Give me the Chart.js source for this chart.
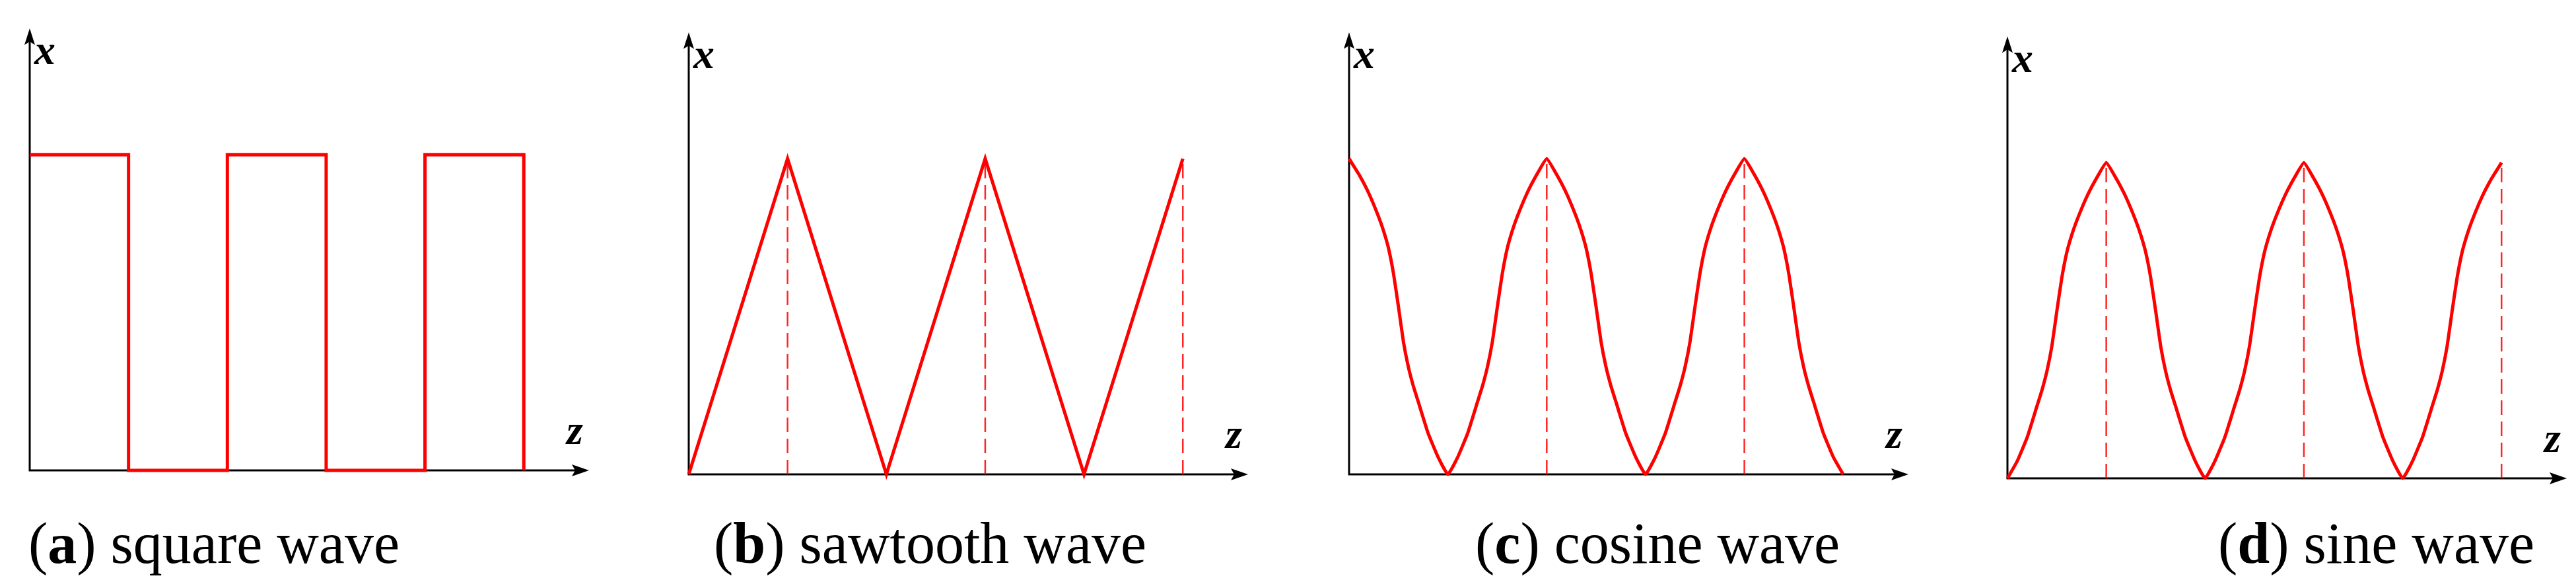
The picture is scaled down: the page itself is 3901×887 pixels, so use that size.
<!DOCTYPE html>
<html>
<head>
<meta charset="utf-8">
<script src="https://cdn.jsdelivr.net/npm/chart.js@4.4.1/dist/chart.umd.min.js"></script>
<style>
    html, body { margin: 0; padding: 0; background: #fff; overflow: hidden; }
    body { position: relative; width: 3901px; height: 887px; }
    .panel { position: absolute; }
    .caption {
        position: absolute;
        top: 779px;
        font-family: "Liberation Serif", "DejaVu Serif", serif;
        font-size: 88px;
        line-height: 1;
        white-space: nowrap;
        color: #000;
    }
</style>
</head>
<body>

<div class="panel" id="box-a"><canvas id="chart-a"></canvas></div>
<div class="panel" id="box-b"><canvas id="chart-b"></canvas></div>
<div class="panel" id="box-c"><canvas id="chart-c"></canvas></div>
<div class="panel" id="box-d"><canvas id="chart-d"></canvas></div>

<div class="caption" style="left:43px">(<b>a</b>) square wave</div>
<div class="caption" style="left:1081px">(<b>b</b>) sawtooth wave</div>
<div class="caption" style="left:2234px">(<b>c</b>) cosine wave</div>
<div class="caption" style="left:3359px">(<b>d</b>) sine wave</div>

<script>
// --- DATOS (z en medios periodos, x en amplitudes) ---

// onda cuadrada
const squareZ = [0, 1, 1, 2, 2, 3, 3, 4, 4, 5, 5];
const squareX = [1, 1, 0, 0, 1, 1, 0, 0, 1, 1, 0];

// diente de sierra
const sawZ = [0, 1, 2, 3, 4, 5];
const sawX = [0, 1, 0, 1, 0, 1];
const sawGuides = [1, 3, 5];

// muestreo comun para coseno y seno
const waveZ = [
    0, 0.1, 0.2, 0.3, 0.35, 0.4, 0.45, 0.5, 0.55, 0.6, 0.65, 0.7, 0.8, 0.9,
    1, 1.1, 1.2, 1.3, 1.35, 1.4, 1.45, 1.5, 1.55, 1.6, 1.65, 1.7, 1.8, 1.9,
    2, 2.1, 2.2, 2.3, 2.35, 2.4, 2.45, 2.5, 2.55, 2.6, 2.65, 2.7, 2.8, 2.9,
    3, 3.1, 3.2, 3.3, 3.35, 3.4, 3.45, 3.5, 3.55, 3.6, 3.65, 3.7, 3.8, 3.9,
    4, 4.1, 4.2, 4.3, 4.35, 4.4, 4.45, 4.5, 4.55, 4.6, 4.65, 4.7, 4.8, 4.9,
    5
];

// coseno: empieza en el maximo
const cosineX = [
    1, 0.95, 0.89, 0.815, 0.77, 0.715, 0.635, 0.53, 0.42, 0.34, 0.28, 0.23, 0.13, 0.055,
    0, 0.055, 0.13, 0.23, 0.28, 0.34, 0.42, 0.53, 0.635, 0.715, 0.77, 0.815, 0.89, 0.95,
    1, 0.95, 0.89, 0.815, 0.77, 0.715, 0.635, 0.53, 0.42, 0.34, 0.28, 0.23, 0.13, 0.055,
    0, 0.055, 0.13, 0.23, 0.28, 0.34, 0.42, 0.53, 0.635, 0.715, 0.77, 0.815, 0.89, 0.95,
    1, 0.95, 0.89, 0.815, 0.77, 0.715, 0.635, 0.53, 0.42, 0.34, 0.28, 0.23, 0.13, 0.055,
    0
];
const cosineGuides = [2, 4];

// seno: empieza en cero
const sineX = [
    0, 0.055, 0.13, 0.23, 0.28, 0.34, 0.42, 0.53, 0.635, 0.715, 0.77, 0.815, 0.89, 0.95,
    1, 0.95, 0.89, 0.815, 0.77, 0.715, 0.635, 0.53, 0.42, 0.34, 0.28, 0.23, 0.13, 0.055,
    0, 0.055, 0.13, 0.23, 0.28, 0.34, 0.42, 0.53, 0.635, 0.715, 0.77, 0.815, 0.89, 0.95,
    1, 0.95, 0.89, 0.815, 0.77, 0.715, 0.635, 0.53, 0.42, 0.34, 0.28, 0.23, 0.13, 0.055,
    0, 0.055, 0.13, 0.23, 0.28, 0.34, 0.42, 0.53, 0.635, 0.715, 0.77, 0.815, 0.89, 0.95,
    1
];
const sineGuides = [1, 3, 5];

// extremos de los ejes (puntas de flecha)
const zMax = 5.66;
const xMax = 1.40;

// --- LAYOUT ---
const PAD = { left: 20, right: 12, top: 20, bottom: 20 };
const AREA_W = 847;
const AREA_H = 669;

const RED = '#ff0000';

function toPoints(zs, xs) {
    return zs.map((z, i) => ({ x: z, y: xs[i] }));
}

function guidePoints(guides) {
    const pts = [];
    guides.forEach(g => {
        pts.push({ x: g, y: 0 });
        pts.push({ x: g, y: 1 });
        pts.push({ x: g, y: null });
    });
    return pts;
}

// ejes con flechas y etiquetas x / z
const axesPlugin = {
    id: 'arrowAxes',
    beforeDatasetsDraw(chart) {
        const ctx = chart.ctx;
        const sx = chart.scales.x;
        const sy = chart.scales.y;
        const ox = sx.getPixelForValue(0);
        const oy = sy.getPixelForValue(0);
        const tipX = sx.getPixelForValue(zMax);
        const tipY = sy.getPixelForValue(xMax);

        ctx.save();
        ctx.strokeStyle = '#000';
        ctx.fillStyle = '#000';
        ctx.lineWidth = 3;
        ctx.lineCap = 'butt';

        ctx.beginPath();
        ctx.moveTo(ox - 1.5, oy);
        ctx.lineTo(tipX - 12, oy);
        ctx.moveTo(ox, oy + 1.5);
        ctx.lineTo(ox, tipY + 12);
        ctx.stroke();

        // flecha horizontal
        ctx.beginPath();
        ctx.moveTo(tipX, oy);
        ctx.lineTo(tipX - 26, oy - 9);
        ctx.lineTo(tipX - 21, oy);
        ctx.lineTo(tipX - 26, oy + 9);
        ctx.closePath();
        ctx.fill();

        // flecha vertical
        ctx.beginPath();
        ctx.moveTo(ox, tipY);
        ctx.lineTo(ox - 8, tipY + 25);
        ctx.lineTo(ox, tipY + 20);
        ctx.lineTo(ox + 8, tipY + 25);
        ctx.closePath();
        ctx.fill();

        ctx.font = 'bold italic 64px "Liberation Serif", serif';
        ctx.textBaseline = 'alphabetic';
        ctx.textAlign = 'left';
        ctx.fillText('x', ox + 7, tipY + 54);
        ctx.fillText('z', tipX - 34, oy - 40);
        ctx.restore();
    }
};

function makeChart(id, box, left, originY, datasets) {
    const el = document.getElementById(box);
    el.style.left = (left - PAD.left) + 'px';
    el.style.top = (originY - AREA_H - PAD.top) + 'px';
    el.style.width = (AREA_W + PAD.left + PAD.right) + 'px';
    el.style.height = (AREA_H + PAD.top + PAD.bottom) + 'px';

    return new Chart(document.getElementById(id), {
        type: 'line',
        data: { datasets },
        plugins: [axesPlugin],
        options: {
            responsive: true,
            maintainAspectRatio: false,
            animation: false,
            events: [],
            layout: { padding: PAD },
            scales: {
                x: { type: 'linear', min: 0, max: zMax, display: false },
                y: { type: 'linear', min: 0, max: xMax, display: false }
            },
            plugins: {
                legend: { display: false },
                tooltip: { enabled: false }
            },
            elements: { point: { radius: 0 } }
        }
    });
}

function waveSet(zs, xs, tension) {
    return {
        data: toPoints(zs, xs),
        borderColor: RED,
        borderWidth: 5,
        tension: tension,
        borderJoinStyle: tension ? 'round' : 'miter',
        fill: false,
        clip: false,
        order: 1
    };
}

function guideSet(guides) {
    return {
        data: guidePoints(guides),
        borderColor: 'rgba(255, 0, 0, 0.85)',
        borderWidth: 2.5,
        borderDash: [22, 10],
        spanGaps: false,
        tension: 0,
        fill: false,
        clip: false,
        order: 2
    };
}

// --- GRAFICOS ---
makeChart('chart-a', 'box-a', 45, 712, [waveSet(squareZ, squareX, 0)]);
makeChart('chart-b', 'box-b', 1043, 718, [waveSet(sawZ, sawX, 0), guideSet(sawGuides)]);
makeChart('chart-c', 'box-c', 2043, 718, [waveSet(waveZ, cosineX, 0.12), guideSet(cosineGuides)]);
makeChart('chart-d', 'box-d', 3040, 724, [waveSet(waveZ, sineX, 0.12), guideSet(sineGuides)]);
</script>
</body>
</html>
